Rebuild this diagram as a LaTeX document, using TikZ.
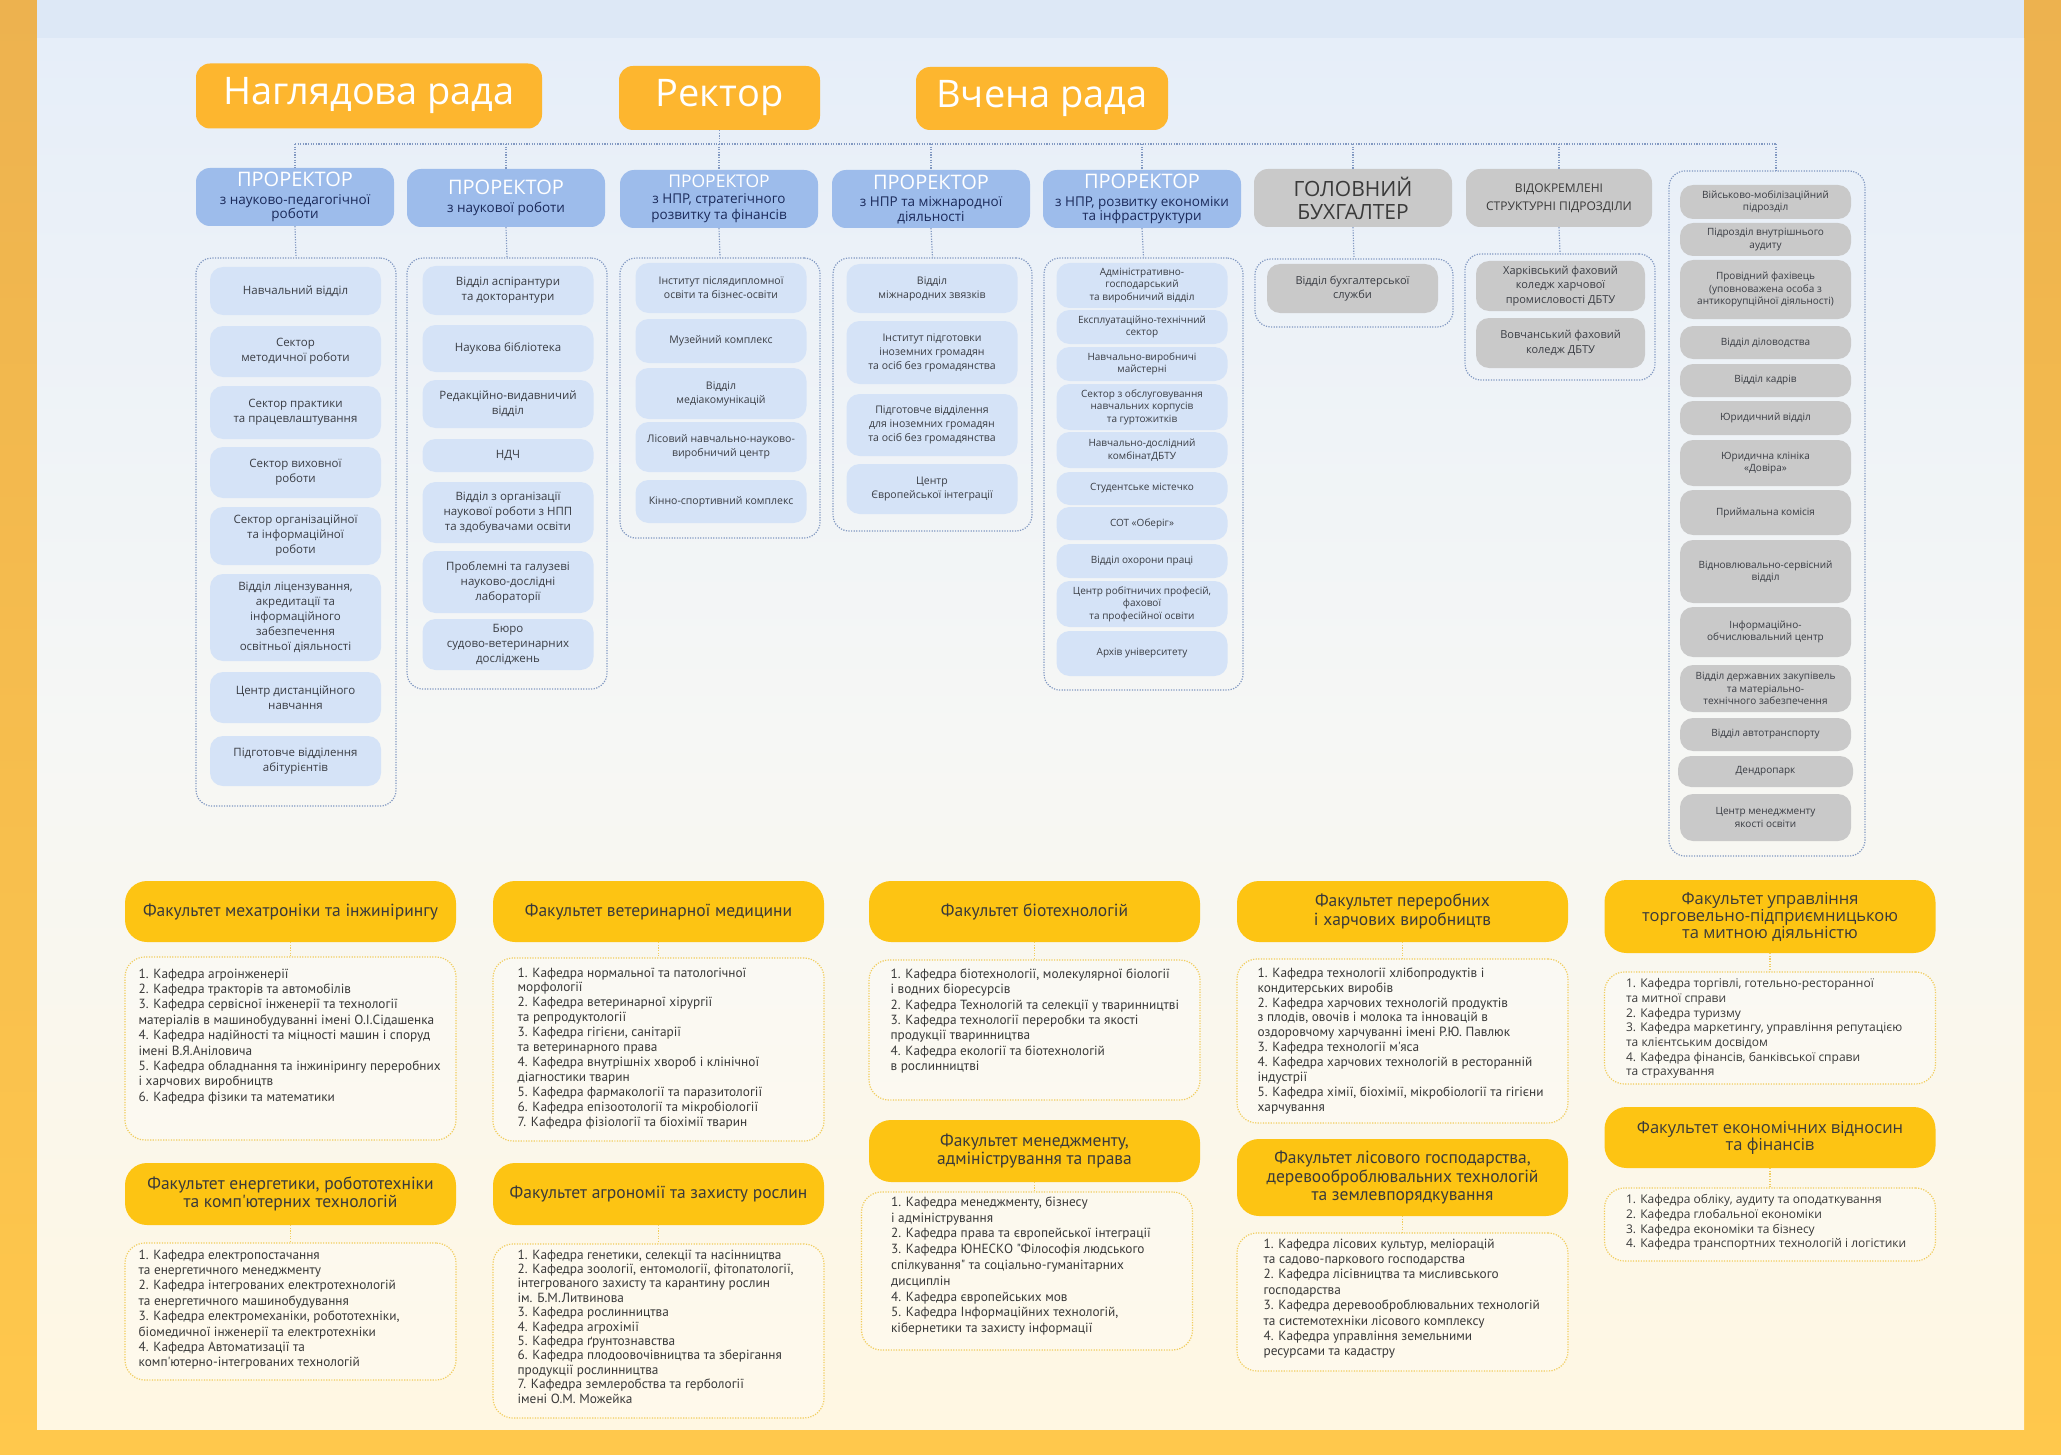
\documentclass[tikz,border=0pt]{standalone}
\usepackage{fontspec}
\setmainfont{Open Sans}
\newfontfamily\condfont{PT Sans}
\usetikzlibrary{positioning}

\definecolor{frametop}{HTML}{EDB24F}
\definecolor{framebot}{HTML}{FFC84C}
\definecolor{topband}{HTML}{DDE8F6}
\definecolor{panelblue}{HTML}{E6EEF9}
\definecolor{panelmid}{HTML}{F6F7F5}
\definecolor{panelcream}{HTML}{FFF7E2}
\definecolor{rectorange}{HTML}{FDB62F}
\definecolor{prblue}{HTML}{9DBCEB}
\definecolor{prnavy}{HTML}{1B2A5A}
\definecolor{cellblue}{HTML}{D5E3F7}
\definecolor{cellgray}{HTML}{C9C9C9}
\definecolor{celltext}{HTML}{3A3D44}
\definecolor{dotblue}{HTML}{8299C2}
\definecolor{facyellow}{HTML}{FDC413}
\definecolor{dotyellow}{HTML}{F1CD5E}
\definecolor{factext}{HTML}{3A3A3A}

\newcommand{\prtitle}{\color{white}\fontsize{20}{18}\selectfont}
\newcommand{\prtitlesm}{\color{white}\fontsize{17.5}{16}\selectfont}

\tikzset{
  topbox/.style={fill=rectorange, rounded corners=14pt, text=white, inner sep=0pt,
    font=\fontsize{38}{42}\selectfont},
  prhead/.style={fill=prblue, rounded corners=14pt, align=center, inner sep=0pt, text=prnavy,
    minimum width=198pt, minimum height=58pt, font=\fontsize{13.5}{14.5}\selectfont},
  grayhead/.style={prhead, fill=cellgray, text=factext},
  unitgroup/.style={draw=dotblue, line width=1.2pt, dash pattern=on 1.2pt off 1.4pt,
    rounded corners=16pt, inner sep=0pt},
  unit/.style={fill=cellblue, rounded corners=13pt, align=center, text=celltext, inner sep=0pt,
    minimum width=171pt, font=\fontsize{11.5}{15}\selectfont},
  unitsm/.style={unit, font=\fontsize{10.5}{14}\selectfont},
  unitxs/.style={unit, font=\fontsize{10}{12.5}\selectfont},
  grayunit/.style={unit, fill=cellgray, font=\fontsize{11}{14.5}\selectfont},
  grayunitxs/.style={unitxs, fill=cellgray},
  bus/.style={draw=dotblue, line width=1.2pt, dash pattern=on 1.2pt off 1.4pt},
  facbox/.style={fill=facyellow, rounded corners=22pt, align=center, text=factext, inner sep=0pt,
    minimum width=331pt, font=\condfont\fontsize{17.5}{18.5}\selectfont},
  facboxwide/.style={facbox, font=\fontsize{16.5}{17}\selectfont},
  deplist/.style={draw=dotyellow, fill=white, fill opacity=0.3, line width=1.2pt,
    dash pattern=on 1.2pt off 1.4pt, rounded corners=20pt, minimum width=331pt, inner sep=0pt},
  deptext/.style={align=left, text=factext, inner sep=0pt, font=\condfont\fontsize{13.3}{15.4}\selectfont},
  deptextwide/.style={deptext, font=\fontsize{12}{14.7}\selectfont},
  facline/.style={draw=dotyellow, line width=1.2pt, dash pattern=on 1.2pt off 1.4pt}
}

\begin{document}
\begin{tikzpicture}[x=1pt,y=-1pt]
	\useasboundingbox (0,0) rectangle (2061,1455);
	% background
	\shade[top color=frametop, bottom color=framebot] (0,0) rectangle (2061,1455);
	\fill[topband] (37,0) rectangle (2024,39);
	\shade[top color=panelblue, bottom color=panelcream, middle color=panelmid] (37,39) rectangle (2024,1429);

	% governing bodies
	\node[topbox, minimum width=346pt, minimum height=65pt] (nrada) at (369,96) {Наглядова рада};
	\node[topbox, minimum width=201pt, minimum height=64pt] (rector) at (719.5,98) {Ректор};
	\node[topbox, minimum width=252pt, minimum height=63pt] (vrada) at (1042,98.5) {Вчена рада};

	% vice-rectors and heads
	\node[prhead] (pr1) at (295,197) {\prtitle ПРОРЕКТОР\\[3pt]з науково-педагогічної\\роботи};
	\node[prhead] (pr2) at (506,198) {\prtitle ПРОРЕКТОР\\[3pt]з наукової роботи};
	\node[prhead] (pr3) at (719,199) {\prtitlesm ПРОРЕКТОР\\[1pt]з НПР, стратегічного\\[2pt]розвитку та фінансів};
	\node[prhead] (pr4) at (931,199) {\prtitle ПРОРЕКТОР\\[3pt]з НПР та міжнародної\\діяльності};
	\node[prhead] (pr5) at (1142,199) {\prtitle ПРОРЕКТОР\\[3pt]з НПР, розвитку економіки\\та інфраструктури};
	\node[grayhead, font=\fontsize{21}{23}\selectfont] (buh) at (1353,198) {ГОЛОВНИЙ\\БУХГАЛТЕР};
	\node[grayhead, minimum width=186pt, font=\fontsize{12}{18}\selectfont] (vsp) at (1559,198) {ВІДОКРЕМЛЕНІ\\СТРУКТУРНІ ПІДРОЗДІЛИ};

	% dotted groups
	\node[unitgroup, minimum width=200pt, minimum height=548pt] (g1) at (296,532) {};
	\node[unitgroup, minimum width=200pt, minimum height=431pt] (g2) at (507,473.5) {};
	\node[unitgroup, minimum width=200pt, minimum height=280pt] (g3) at (720,398) {};
	\node[unitgroup, minimum width=199pt, minimum height=273pt] (g4) at (932.5,394.5) {};
	\node[unitgroup, minimum width=199pt, minimum height=432pt] (g5) at (1143.5,474) {};
	\node[unitgroup, minimum width=198pt, minimum height=68pt] (g6) at (1354,293) {};
	\node[unitgroup, minimum width=190pt, minimum height=126pt] (g7) at (1560,317) {};
	\node[unitgroup, minimum width=196pt, minimum height=685pt] (g8) at (1767,513.5) {};

	% column 1
	\node[unit, minimum height=48pt] (c1a) at (295.5,291) {Навчальний відділ};
	\node[unit, minimum height=51pt] (c1b) at (295.5,351.5) {Сектор\\методичної роботи};
	\node[unit, minimum height=53pt] (c1c) at (295.5,412.5) {Сектор практики\\та працевлаштування};
	\node[unit, minimum height=51pt] (c1d) at (295.5,472.5) {Сектор виховної\\роботи};
	\node[unit, minimum height=58pt] (c1e) at (295.5,536) {Сектор організаційної\\та інформаційної\\роботи};
	\node[unit, minimum height=87pt] (c1f) at (295.5,617.5) {Відділ ліцензування,\\акредитації та\\інформаційного\\забезпечення\\освітньої діяльності};
	\node[unit, minimum height=51pt] (c1g) at (295.5,697.5) {Центр дистанційного\\навчання};
	\node[unit, minimum height=50pt] (c1h) at (295.5,761) {Підготовче відділення\\абітурієнтів};

	% column 2
	\node[unit, minimum height=49pt] (c2a) at (508,290.5) {Відділ аспірантури\\та докторантури};
	\node[unit, minimum height=47pt] (c2b) at (508,348.5) {Наукова бібліотека};
	\node[unit, minimum height=48pt] (c2c) at (508,404) {Редакційно-видавничий\\відділ};
	\node[unit, minimum height=33pt] (c2d) at (508,455.5) {НДЧ};
	\node[unit, minimum height=61pt] (c2e) at (508,512.5) {Відділ з організації\\наукової роботи з НПП\\та здобувачами освіти};
	\node[unit, minimum height=62pt] (c2f) at (508,582) {Проблемні та галузеві\\науково-дослідні\\лабораторії};
	\node[unit, minimum height=51pt] (c2g) at (508,644.5) {Бюро\\судово-ветеринарних\\досліджень};

	% column 3
	\node[unitsm, minimum height=50pt] (c3a) at (721,288) {Інститут післядипломної\\освіти та бізнес-освіти};
	\node[unitsm, minimum height=44pt] (c3b) at (721,341) {Музейний комплекс};
	\node[unitsm, minimum height=51pt] (c3c) at (721,393.5) {Відділ\\медіакомунікацій};
	\node[unitsm, minimum height=50pt] (c3d) at (721,447) {Лісовий навчально-науково-\\виробничий центр};
	\node[unitsm, minimum height=43pt] (c3e) at (721,501.5) {Кінно-спортивний комплекс};

	% column 4
	\node[unitsm, minimum height=49pt] (c4a) at (932,288.5) {Відділ\\міжнародних звязків};
	\node[unitsm, minimum height=63pt] (c4b) at (932,352.5) {Інститут підготовки\\іноземних громадян\\та осіб без громадянства};
	\node[unitsm, minimum height=62pt] (c4c) at (932,425) {Підготовче відділення\\для іноземних громадян\\та осіб без громадянства};
	\node[unitsm, minimum height=50pt] (c4d) at (932,489) {Центр\\Європейської інтеграції};

	% column 5
	\node[unitxs, minimum height=45pt] (c5a) at (1142,285.5) {Адміністративно-\\господарський\\та виробничий відділ};
	\node[unitxs, minimum height=34pt] (c5b) at (1142,327) {Експлуатаційно-технічний\\сектор};
	\node[unitxs, minimum height=34pt] (c5c) at (1142,364) {Навчально-виробничі\\майстерні};
	\node[unitxs, minimum height=46pt] (c5d) at (1142,407) {Сектор з обслуговування\\навчальних корпусів\\та гуртожитків};
	\node[unitxs, minimum height=36pt] (c5e) at (1142,450) {Навчально-дослідний\\комбінатДБТУ};
	\node[unitxs, minimum height=33pt] (c5f) at (1142,488.5) {Студентське містечко};
	\node[unitxs, minimum height=33pt] (c5g) at (1142,523.5) {СОТ «Оберіг»};
	\node[unitxs, minimum height=34pt] (c5h) at (1142,561) {Відділ охорони праці};
	\node[unitxs, minimum height=46pt] (c5i) at (1142,604) {Центр робітничих професій,\\фахової\\та професійної освіти};
	\node[unitxs, minimum height=45pt] (c5j) at (1142,653.5) {Архів університету};

	% column 6 and 7
	\node[grayunit, minimum height=49pt] (c6a) at (1352.5,288.5) {Відділ бухгалтерської\\служби};
	\node[grayunit, minimum width=169pt, minimum height=50pt] (c7a) at (1560.5,286) {Харківський фаховий\\коледж харчової\\промисловості ДБТУ};
	\node[grayunit, minimum width=169pt, minimum height=50pt] (c7b) at (1560.5,343) {Вовчанський фаховий\\коледж ДБТУ};

	% column 8
	\node[grayunitxs, minimum height=34pt] (c8a) at (1765.5,202) {Військово-мобілізаційний\\підрозділ};
	\node[grayunitxs, minimum height=33pt] (c8b) at (1765.5,239.5) {Підрозділ внутрішнього\\аудиту};
	\node[grayunitxs, minimum height=59pt] (c8c) at (1765.5,289.5) {Провідний фахівець\\(уповноважена особа з\\антикорупційної діяльності)};
	\node[grayunitxs, minimum height=33pt] (c8d) at (1765.5,342.5) {Відділ діловодства};
	\node[grayunitxs, minimum height=33pt] (c8e) at (1765.5,380.5) {Відділ кадрів};
	\node[grayunitxs, minimum height=34pt] (c8f) at (1765.5,418) {Юридичний відділ};
	\node[grayunitxs, minimum height=46pt] (c8g) at (1765.5,463) {Юридична клініка\\«Довіра»};
	\node[grayunitxs, minimum height=45pt] (c8h) at (1765.5,512.5) {Приймальна комісія};
	\node[grayunitxs, minimum height=63pt] (c8i) at (1765.5,571.5) {Відновлювально-сервісний\\відділ};
	\node[grayunitxs, minimum height=50pt] (c8j) at (1765.5,632) {Інформаційно-\\обчислювальний центр};
	\node[grayunitxs, minimum height=47pt] (c8k) at (1765.5,688.5) {Відділ державних закупівель\\та матеріально-\\технічного забезпечення};
	\node[grayunitxs, minimum height=33pt] (c8l) at (1765.5,734.5) {Відділ автотранспорту};
	\node[grayunitxs, minimum width=175pt, minimum height=31pt] (c8m) at (1765.5,771.5) {Дендропарк};
	\node[grayunitxs, minimum height=47pt] (c8n) at (1765.5,817.5) {Центр менеджменту\\якості освіти};

	% faculties
	\node[facbox, minimum height=61pt] (fA1) at (290.5,911.5) {Факультет мехатроніки та інжинірингу};
	\node[facbox, minimum height=61pt] (fB1) at (658.5,911.5) {Факультет ветеринарної медицини};
	\node[facbox, minimum height=61pt] (fC1) at (1034.5,911.5) {Факультет біотехнологій};
	\node[facbox, minimum height=61pt] (fD1) at (1402.5,911.5) {Факультет переробних\\і харчових виробництв};
	\node[facboxwide, minimum height=73pt] (fE1) at (1770,916.5) {Факультет управління\\торговельно-підприємницькою\\та митною діяльністю};
	\node[facbox, minimum height=62pt] (fA2) at (290.5,1194) {Факультет енергетики, робототехніки\\та комп'ютерних технологій};
	\node[facbox, minimum height=62pt] (fB2) at (658.5,1194) {Факультет агрономії та захисту рослин};
	\node[facbox, minimum height=62pt] (fC2) at (1034.5,1151) {Факультет менеджменту,\\адміністрування та права};
	\node[facbox, minimum height=77pt] (fD2) at (1402.5,1177.5) {Факультет лісового господарства,\\деревооброблювальних технологій\\та землевпорядкування};
	\node[facboxwide, minimum height=61pt] (fE2) at (1770,1137.5) {Факультет економічних відносин\\та фінансів};

	% department lists
	\node[deplist, minimum height=183pt] (lA1) at (290.5,1048.5) {};
	\node[deplist, minimum height=183pt] (lB1) at (658.5,1049.5) {};
	\node[deplist, minimum height=140pt] (lC1) at (1034.5,1030) {};
	\node[deplist, minimum height=164pt] (lD1) at (1402.5,1041) {};
	\node[deplist, minimum height=112pt] (lE1) at (1770,1028) {};
	\node[deplist, minimum height=137pt] (lA2) at (290.5,1311.5) {};
	\node[deplist, minimum height=174pt] (lB2) at (658.5,1331) {};
	\node[deplist, minimum height=158pt] (lC2) at (1027,1271) {};
	\node[deplist, minimum height=138pt] (lD2) at (1402.5,1302) {};
	\node[deplist, minimum height=73pt] (lE2) at (1770,1224.5) {};

	\node[deptext, below right=12pt and 14pt of lA1.north west] (tA1) {1. Кафедра агроінженерії\\2. Кафедра тракторів та автомобілів\\3. Кафедра сервісної інженерії та технології\\матеріалів в машинобудуванні імені О.І.Сідашенка\\4. Кафедра надійності та міцності машин і споруд\\імені В.Я.Аніловича\\5. Кафедра обладнання та інжинірингу переробних\\і харчових виробництв\\6. Кафедра фізики та математики};
	\node[deptext, below right=10pt and 25pt of lB1.north west, font=\condfont\fontsize{13.3}{14.9}\selectfont] (tB1) {1. Кафедра нормальної та патологічної\\морфології\\2. Кафедра ветеринарної хірургії\\та репродуктології\\3. Кафедра гігієни, санітарії\\та ветеринарного права\\4. Кафедра внутрішніх хвороб і клінічної\\діагностики тварин\\5. Кафедра фармакології та паразитології\\6. Кафедра епізоотології та мікробіології\\7. Кафедра фізіології та біохімії тварин};
	\node[deptext, below right=9pt and 22pt of lC1.north west] (tC1) {1. Кафедра біотехнології, молекулярної біології\\і водних біоресурсів\\2. Кафедра Технологій та селекції у тваринництві\\3. Кафедра технології переробки та якості\\продукції тваринництва\\4. Кафедра екології та біотехнологій\\в рослинництві};
	\node[deptext, below right=9pt and 21pt of lD1.north west, font=\condfont\fontsize{13.3}{14.9}\selectfont] (tD1) {1. Кафедра технології хлібопродуктів і\\кондитерських виробів\\2. Кафедра харчових технологій продуктів\\з плодів, овочів і молока та інновацій в\\оздоровчому харчуванні імені Р.Ю. Павлюк\\3. Кафедра технології м'яса\\4. Кафедра харчових технологій в ресторанній\\індустрії\\5. Кафедра хімії, біохімії, мікробіології та гігієни\\харчування};
	\node[deptextwide, below right=7pt and 22pt of lE1.north west] (tE1) {1. Кафедра торгівлі, готельно-ресторанної\\та митної справи\\2. Кафедра туризму\\3. Кафедра маркетингу, управління репутацією\\та клієнтським досвідом\\4. Кафедра фінансів, банківської справи\\та страхування};
	\node[deptext, below right=7pt and 14pt of lA2.north west] (tA2) {1. Кафедра електропостачання\\та енергетичного менеджменту\\2. Кафедра інтегрованих електротехнологій\\та енергетичного машинобудування\\3. Кафедра електромеханіки, робототехніки,\\біомедичної інженерії та електротехніки\\4. Кафедра Автоматизації та\\комп'ютерно-інтегрованих технологій};
	\node[deptext, below right=6pt and 25pt of lB2.north west, font=\condfont\fontsize{13.3}{14.4}\selectfont] (tB2) {1. Кафедра генетики, селекції та насінництва\\2. Кафедра зоології, ентомології, фітопатології,\\інтегрованого захисту та карантину рослин\\ім. Б.М.Литвинова\\3. Кафедра рослинництва\\4. Кафедра агрохімії\\5. Кафедра ґрунтознавства\\6. Кафедра плодоовочівництва та зберігання\\продукції рослинництва\\7. Кафедра землеробства та гербології\\імені О.М. Можейка};
	\node[deptext, below right=5pt and 30pt of lC2.north west, font=\condfont\fontsize{13.3}{15.8}\selectfont] (tC2) {1. Кафедра менеджменту, бізнесу\\і адміністрування\\2. Кафедра права та європейської інтеграції\\3. Кафедра ЮНЕСКО "Філософія людського\\спілкування" та соціально-гуманітарних\\дисциплін\\4. Кафедра європейських мов\\5. Кафедра Інформаційних технологій,\\кібернетики та захисту інформації};
	\node[deptext, below right=6pt and 27pt of lD2.north west] (tD2) {1. Кафедра лісових культур, меліорацій\\та садово-паркового господарства\\2. Кафедра лісівництва та мисливського\\господарства\\3. Кафедра деревооброблювальних технологій\\та системотехніки лісового комплексу\\4. Кафедра управління земельними\\ресурсами та кадастру};
	\node[deptextwide, below right=7pt and 22pt of lE2.north west] (tE2) {1. Кафедра обліку, аудиту та оподаткування\\2. Кафедра глобальної економіки\\3. Кафедра економіки та бізнесу\\4. Кафедра транспортних технологій і логістики};

	% connectors
	\coordinate (bus) at (0,144);
	\coordinate (busR) at (1776,144);
	\draw[bus] (pr1.north |- bus) -- (busR);
	\draw[bus] (rector.south) -- (rector.south |- bus);
	\foreach \n in {pr1,pr2,pr3,pr4,pr5,buh,vsp}
		\draw[bus] (\n.north |- bus) -- (\n.north);
	\draw[bus] (busR) -- (busR |- g8.north);
	\foreach \i in {1,...,5}
		\draw[bus] (pr\i.south) -- (g\i.north);
	\draw[bus] (buh.south) -- (g6.north);
	\draw[bus] (vsp.south) -- (g7.north);
	\foreach \f in {A1,B1,C1,D1,E1,A2,B2,C2,D2,E2}
		\draw[facline] (f\f.south) -- (f\f.south |- l\f.north);
\end{tikzpicture}
\end{document}
